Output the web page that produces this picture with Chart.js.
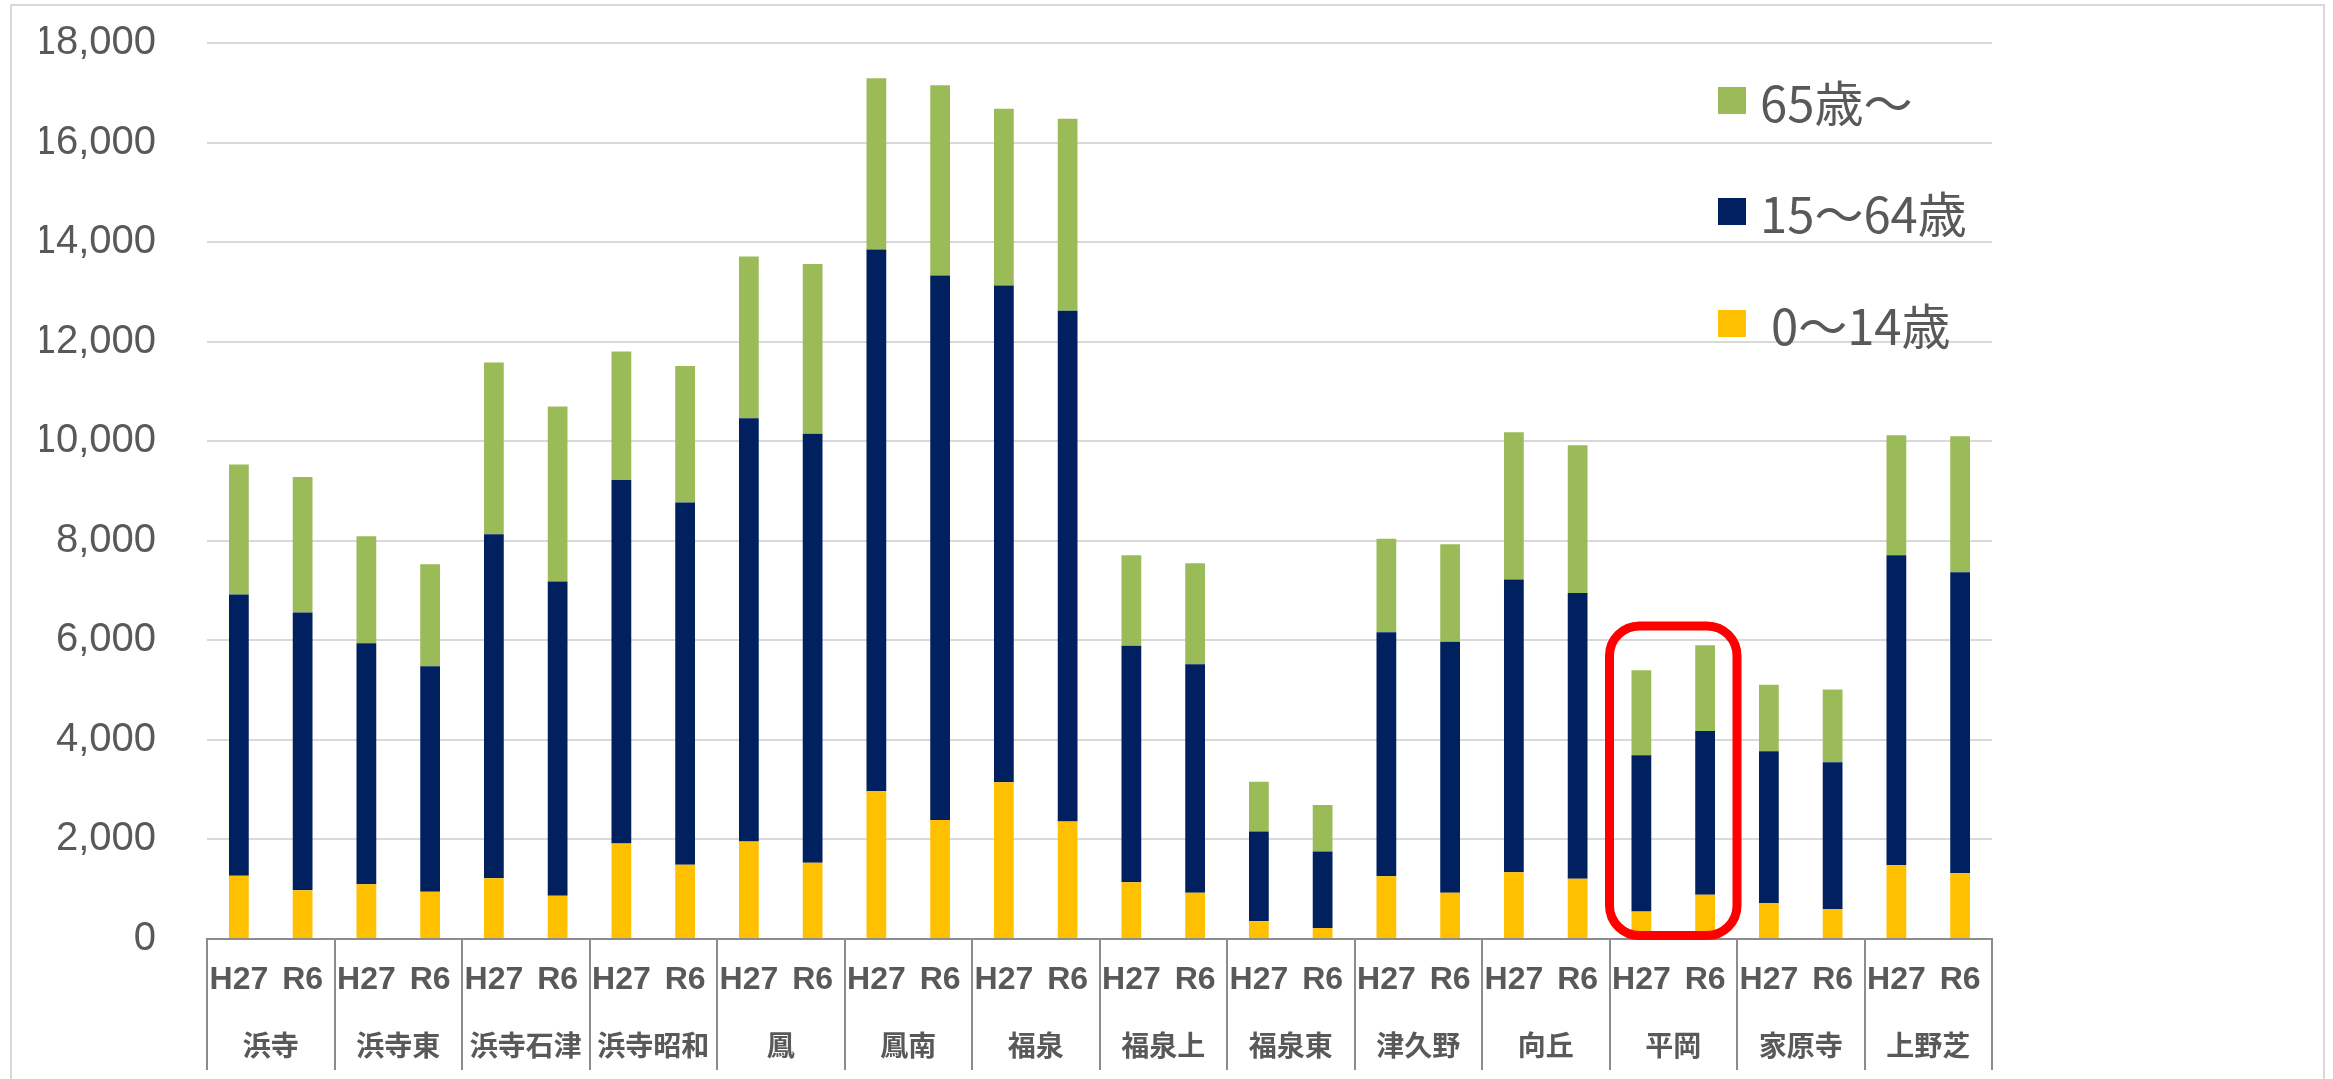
<!DOCTYPE html>
<html lang="ja">
<head>
<meta charset="UTF-8">
<title>年齢3区分別人口</title>
<script src="https://cdn.jsdelivr.net/npm/chart.js"></script>
<style>
  html, body { margin: 0; padding: 0; background: #fff; overflow: hidden; }
  #wrap { position: relative; width: 2333px; height: 1079px; }
  #frame { position: absolute; left: 10px; top: 4px; width: 2311px; height: 1100px; border: 2px solid #d9d9d9; }
  #myChart { position: absolute; left: 0; top: 0; }
</style>
</head>
<body>
<div id="wrap">
  <div id="frame"></div>
  <canvas id="myChart" width="2333" height="1079"></canvas>
</div>
<script>
    // 地区（小学校区）と年度
    const areas = ['浜寺', '浜寺東', '浜寺石津', '浜寺昭和', '鳳', '鳳南', '福泉', '福泉上', '福泉東', '津久野', '向丘', '平岡', '家原寺', '上野芝'];
    const years = ['H27', 'R6'];
    const barLabels = areas.flatMap(() => years);

    // 人口（H27, R6 の順）
    const age0to14 = [1270, 980, 1100, 950, 1220, 870, 1920, 1490, 1960, 1530, 2970, 2390, 3150, 2360,
                      1140, 930, 360, 220, 1260, 930, 1340, 1210, 550, 890, 720, 600, 1480, 1320];
    const age15to64 = [5650, 5580, 4840, 4530, 6910, 6310, 7300, 7280, 8500, 8620, 10880, 10940, 9980, 10260,
                       4750, 4590, 1800, 1540, 4900, 5040, 5880, 5740, 3140, 3290, 3050, 2950, 6230, 6050];
    const age65plus = [2610, 2720, 2150, 2050, 3450, 3520, 2580, 2740, 3250, 3410, 3440, 3820, 3550, 3860,
                       1820, 2030, 1000, 930, 1880, 1960, 2960, 2970, 1710, 1720, 1340, 1460, 2410, 2730];

    const yTicks = [0, 2000, 4000, 6000, 8000, 10000, 12000, 14000, 16000, 18000];

    // 強調枠（平岡）
    const highlightArea = '平岡';
    const highlightRange = [70, 6290];

    const textColor = '#595959';
    const axisColor = '#8c8c8c';

    // 凡例は上から 65歳～, 15～64歳, 0～14歳
    const legendPlugin = {
        id: 'sideLegend',
        afterDraw(chart) {
            const ctx = chart.ctx;
            const area = chart.chartArea;
            const x = area.right - 274;
            const rows = [101, 212, 324];
            const sets = chart.data.datasets.slice().reverse();
            ctx.save();
            ctx.font = '49px "Noto Sans CJK JP"';
            ctx.textBaseline = 'middle';
            sets.forEach((ds, i) => {
                ctx.fillStyle = ds.backgroundColor;
                ctx.fillRect(x, rows[i] - 14, 28, 27);
                ctx.fillStyle = textColor;
                ctx.fillText(ds.label, x + 42, rows[i] + 2);
            });
            ctx.restore();
        }
    };

    const highlightPlugin = {
        id: 'highlightBox',
        afterDatasetsDraw(chart) {
            const xs = chart.scales.x2;
            const ys = chart.scales.y;
            const idx = areas.indexOf(highlightArea);
            const half = xs.width / areas.length / 2;
            const cx = xs.getPixelForValue(idx);
            const top = ys.getPixelForValue(highlightRange[1]);
            const bottom = ys.getPixelForValue(highlightRange[0]);
            const ctx = chart.ctx;
            ctx.save();
            ctx.strokeStyle = '#ff0000';
            ctx.lineWidth = 9;
            ctx.beginPath();
            ctx.roundRect(cx - half, top, half * 2, bottom - top, 30);
            ctx.stroke();
            ctx.restore();
        }
    };

    const ctx = document.getElementById('myChart').getContext('2d');
    const myChart = new Chart(ctx, {
        type: 'bar',
        data: {
            labels: barLabels,
            datasets: [
                { label: ' 0～14歳', data: age0to14, backgroundColor: '#ffc000' },
                { label: '15～64歳', data: age15to64, backgroundColor: '#002060' },
                { label: '65歳～', data: age65plus, backgroundColor: '#9bbb59' },
            ],
        },
        options: {
            responsive: false,
            animation: false,
            layout: { padding: { left: 40, right: 341, top: 43, bottom: 16 } },
            datasets: {
                bar: { categoryPercentage: 1, barPercentage: 0.31 }
            },
            plugins: {
                legend: { display: false },
                tooltip: { enabled: false },
            },
            scales: {
                x: {
                    stacked: true,
                    position: 'bottom',
                    offset: true,
                    border: { display: true, color: axisColor, width: 2 },
                    grid: {
                        offset: true,
                        drawOnChartArea: false,
                        tickLength: 60,
                        lineWidth: 2,
                        color: (c) => (c.type !== 'tick' || c.index % 2 === 0) ? axisColor : 'rgba(0,0,0,0)',
                    },
                    ticks: {
                        autoSkip: false,
                        maxRotation: 0,
                        padding: -38,
                        color: textColor,
                        font: { family: '"Liberation Sans"', size: 32, weight: 'bold' },
                    },
                    // 区分線がラベル行を貫くように高さを固定
                    afterFit: (scale) => { scale.height = 60; },
                },
                x2: {
                    type: 'category',
                    labels: areas,
                    position: 'bottom',
                    offset: true,
                    border: { display: false },
                    grid: {
                        offset: true,
                        drawOnChartArea: false,
                        tickLength: 71,
                        lineWidth: 2,
                        color: axisColor,
                    },
                    ticks: {
                        autoSkip: false,
                        maxRotation: 0,
                        padding: -41,
                        color: textColor,
                        font: { family: '"Noto Sans CJK JP"', size: 28, weight: 'bold' },
                    },
                    afterFit: (scale) => { scale.height = 64; },
                },
                y: {
                    stacked: true,
                    min: 0,
                    max: 18000,
                    border: { display: false },
                    grid: { color: '#d9d9d9', lineWidth: 2, drawTicks: false },
                    afterBuildTicks: (scale) => { scale.ticks = yTicks.map(v => ({ value: v })); },
                    ticks: {
                        padding: 51,
                        color: textColor,
                        font: { family: '"Liberation Sans"', size: 40 },
                        callback: (v) => v.toLocaleString('en-US'),
                    },
                    afterFit: (scale) => {
                        scale.width = 167;
                        scale.paddingTop = 0;
                        scale.paddingBottom = 0;
                    },
                },
            },
        },
        plugins: [legendPlugin, highlightPlugin],
    });
</script>
</body>
</html>
